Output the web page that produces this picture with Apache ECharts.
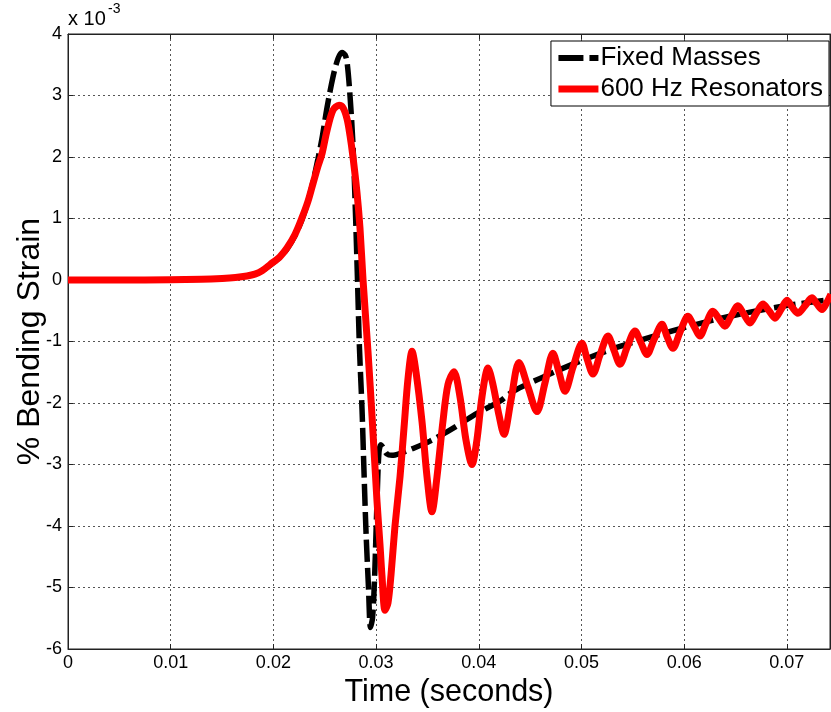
<!DOCTYPE html>
<html>
<head>
<meta charset="utf-8">
<script src="https://cdn.jsdelivr.net/npm/echarts@6/dist/echarts.min.js"></script>
<style>
html,body{margin:0;padding:0;background:#fff;}
#chart{width:831px;height:712px;}
</style>
</head>
<body>
<div id="chart"></div>
<script>
// Time in seconds, strain in units of 1e-3 %
const fixedT = [0, 0.00506, 0.00993, 0.0130, 0.0150, 0.0163, 0.01743, 0.0182, 0.0189, 0.01967, 0.02064, 0.02132, 0.02210, 0.02278, 0.02337, 0.02386, 0.02434, 0.02473, 0.02522, 0.02580, 0.02629, 0.02668, 0.02698, 0.02717, 0.02746, 0.02775, 0.02799, 0.02819, 0.02838, 0.02863, 0.02882, 0.02902, 0.02926, 0.02945, 0.02965, 0.02984, 0.03009, 0.03028, 0.03048, 0.03067, 0.03106, 0.03155, 0.03233, 0.03359, 0.03525, 0.03690, 0.03836, 0.03982, 0.04206, 0.04333, 0.04596, 0.04985, 0.05375, 0.05988, 0.06446, 0.06981, 0.07429];
const fixedV = [0, 0, 0.005, 0.012, 0.025, 0.04, 0.065, 0.095, 0.15, 0.24, 0.37, 0.50, 0.72, 0.98, 1.28, 1.6, 1.97, 2.3, 2.8, 3.3, 3.6, 3.70, 3.66, 3.55, 3.0, 2.2, 1.1, 0.0, -1.1, -2.1, -3.1, -4.1, -5.0, -5.65, -5.5, -4.9, -3.6, -2.8, -2.68, -2.72, -2.83, -2.85, -2.82, -2.74, -2.62, -2.47, -2.32, -2.17, -1.97, -1.81, -1.6, -1.32, -1.08, -0.78, -0.59, -0.42, -0.32];

const resT = [0, 0.00506, 0.00993, 0.0130, 0.0150, 0.0163, 0.01743, 0.0182, 0.0189, 0.01967, 0.02064, 0.02132, 0.02210, 0.02278, 0.02337, 0.02386, 0.02434, 0.02473, 0.02522, 0.02580, 0.02639, 0.02678, 0.02717, 0.02746, 0.02775, 0.02814, 0.02843, 0.02873, 0.02921, 0.02960, 0.03009, 0.03038, 0.03057, 0.03087, 0.03116, 0.03145, 0.03184, 0.03233, 0.03272, 0.03311, 0.03350, 0.03389, 0.03447, 0.03496, 0.03544, 0.03593, 0.03651, 0.03700, 0.03758, 0.03817, 0.03875, 0.03934, 0.03982, 0.04031, 0.04090, 0.04138, 0.04197, 0.04245, 0.04314, 0.04391, 0.04479, 0.04567, 0.04645, 0.04722, 0.04781, 0.04839, 0.04917, 0.05005, 0.05054, 0.05112, 0.05180, 0.05258, 0.05316, 0.05375, 0.05443, 0.05521, 0.05579, 0.05638, 0.05706, 0.05784, 0.05833, 0.05891, 0.05959, 0.06037, 0.06095, 0.06154, 0.06212, 0.06280, 0.06339, 0.06397, 0.06456, 0.06524, 0.06582, 0.06641, 0.06699, 0.06767, 0.06826, 0.06884, 0.06943, 0.07001, 0.07050, 0.07108, 0.07176, 0.07244, 0.07293, 0.07342, 0.07390, 0.07429];
const resV = [0, 0, 0.005, 0.012, 0.025, 0.04, 0.065, 0.095, 0.15, 0.25, 0.38, 0.52, 0.74, 1.01, 1.28, 1.57, 1.85, 2.05, 2.43, 2.76, 2.84, 2.80, 2.62, 2.35, 2.0, 1.42, 0.85, 0.0, -1.16, -2.2, -3.6, -4.3, -4.8, -5.37, -5.25, -4.8, -4.0, -3.2, -2.4, -1.6, -1.16, -1.5, -2.3, -3.2, -3.77, -3.2, -2.3, -1.7, -1.49, -1.9, -2.6, -3.0, -2.6, -1.9, -1.43, -1.7, -2.2, -2.51, -1.95, -1.34, -1.74, -2.14, -1.67, -1.19, -1.5, -1.81, -1.42, -1.03, -1.28, -1.53, -1.22, -0.91, -1.14, -1.37, -1.10, -0.83, -1.02, -1.21, -0.97, -0.72, -0.92, -1.11, -0.85, -0.59, -0.75, -0.91, -0.71, -0.51, -0.63, -0.75, -0.59, -0.42, -0.56, -0.70, -0.55, -0.39, -0.50, -0.62, -0.48, -0.33, -0.44, -0.54, -0.42, -0.29, -0.39, -0.48, -0.36, -0.23];

const seriesNames = ['Fixed Masses', '600 Hz Resonators'];
const xTickLabels = ['0', '0.01', '0.02', '0.03', '0.04', '0.05', '0.06', '0.07'];
const yTickLabels = ['-6', '-5', '-4', '-3', '-2', '-1', '0', '1', '2', '3', '4'];
const xName = 'Time (seconds)';
const yName = '% Bending Strain';
const xMin = 0, xMax = 0.0742, xStep = 0.01;
const yMin = -6, yMax = 4, yStep = 1;

const FONT = '"Liberation Sans", Arial, Helvetica, sans-serif';
const chart = echarts.init(document.getElementById('chart'), null, {renderer: 'canvas'});

const gridLine = {show: true, lineStyle: {color: '#555', width: 1, type: [2, 3]}};
const axisLineStyle = {show: true, onZero: false, lineStyle: {color: '#222', width: 1}};

const option = {
  animation: false,
  backgroundColor: '#fff',
  grid: {left: 68, right: 1, top: 34, bottom: 63, show: true, borderColor: '#222', borderWidth: 1,
    backgroundColor: 'transparent', containLabel: false, outerBoundsMode: 'none'},
  legend: {
    orient: 'vertical', right: 2, top: 41,
    backgroundColor: '#fff', borderColor: '#000', borderWidth: 1,
    padding: [4, 6, 4, 4], itemGap: 5, itemWidth: 40, itemHeight: 8,
    itemStyle: {opacity: 0},
    textStyle: {fontFamily: FONT, fontSize: 26, color: '#000', padding: [0, 0, 0, -3]},
    data: [
      {name: seriesNames[0], lineStyle: {color: '#000', width: 6, type: [25, 6]}},
      {name: seriesNames[1], lineStyle: {color: '#ff0000', width: 7, type: 'solid'}}
    ]
  },
  graphic: [
    {type: 'text', left: 68, top: 9, style: {text: 'x 10', font: '20px ' + FONT, fill: '#000'}},
    {type: 'text', left: 108, top: 2, style: {text: '-3', font: '14px ' + FONT, fill: '#000'}}
  ],
  xAxis: [{
    type: 'value', min: xMin, max: xMax, interval: xStep,
    name: xName, nameLocation: 'middle', nameGap: 24,
    nameTextStyle: {fontFamily: FONT, fontSize: 30.5, color: '#000'},
    axisLine: axisLineStyle,
    axisTick: {show: true, inside: true, length: 5, lineStyle: {color: '#222'}},
    axisLabel: {show: true, margin: 5, showMaxLabel: false, fontFamily: FONT, fontSize: 18, color: '#000',
      formatter: v => { const i = Math.round(v / xStep); return Math.abs(v - i * xStep) < 1e-9 ? (xTickLabels[i] || '') : ''; }},
    splitLine: gridLine
  }, {
    type: 'value', position: 'top', min: xMin, max: xMax, interval: xStep,
    axisLine: axisLineStyle,
    axisTick: {show: true, inside: true, length: 5, lineStyle: {color: '#222'}},
    axisLabel: {show: false}, splitLine: {show: false}
  }],
  yAxis: [{
    type: 'value', min: yMin, max: yMax, interval: yStep,
    name: yName, nameLocation: 'middle', nameGap: 22, nameRotate: 90, nameMoveOverlap: false,
    nameTextStyle: {fontFamily: FONT, fontSize: 32, color: '#000'},
    axisLine: axisLineStyle,
    axisTick: {show: true, inside: true, length: 5, lineStyle: {color: '#222'}},
    axisLabel: {show: true, margin: 6, fontFamily: FONT, fontSize: 18, color: '#000',
      formatter: v => yTickLabels[Math.round(v - yMin)] || ''},
    splitLine: gridLine
  }, {
    type: 'value', position: 'right', min: yMin, max: yMax, interval: yStep,
    axisLine: axisLineStyle,
    axisTick: {show: true, inside: true, length: 5, lineStyle: {color: '#222'}},
    axisLabel: {show: false}, splitLine: {show: false}
  }],
  series: [
    {
      name: seriesNames[0], type: 'line', xAxisIndex: 0, yAxisIndex: 0,
      data: fixedT.map((t, i) => [t, fixedV[i]]),
      symbol: 'none', smooth: 0.3, clip: true,
      lineStyle: {color: '#000', width: 5.5, type: [22, 6], cap: 'butt'},
      itemStyle: {color: '#000'}, z: 2
    },
    {
      name: seriesNames[1], type: 'line', xAxisIndex: 0, yAxisIndex: 0,
      data: resT.map((t, i) => [t, resV[i]]),
      symbol: 'none', smooth: 0.3, clip: true,
      lineStyle: {color: '#ff0000', width: 7, cap: 'butt', join: 'round'},
      itemStyle: {color: '#ff0000'}, z: 3
    }
  ]
};
chart.setOption(option);
</script>
</body>
</html>
